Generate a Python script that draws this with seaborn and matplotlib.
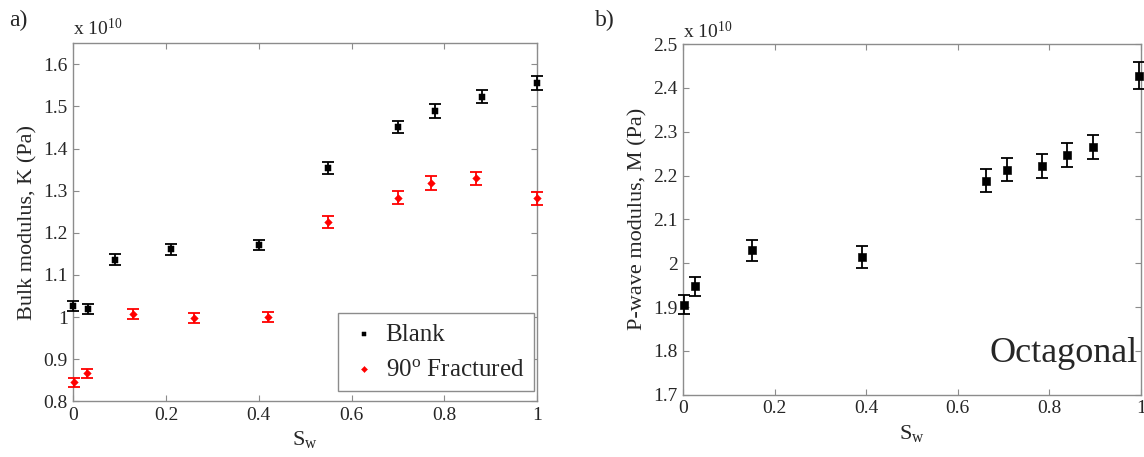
import numpy as np
import pandas as pd
import seaborn as sns
import matplotlib.pyplot as plt
from matplotlib.ticker import FuncFormatter

# values, moduli in units of 1e10 Pa
blank_sw = [0.0, 0.031, 0.089, 0.21, 0.40, 0.549, 0.70, 0.779, 0.88, 1.0]
blank_k = [1.026, 1.019, 1.136, 1.161, 1.171, 1.354, 1.451, 1.489, 1.523, 1.556]
blank_err = [0.012, 0.012, 0.013, 0.013, 0.013, 0.014, 0.015, 0.016, 0.016, 0.017]

frac_sw = [0.002, 0.03, 0.129, 0.26, 0.42, 0.549, 0.70, 0.770, 0.869, 1.0]
frac_k = [0.845, 0.866, 1.007, 0.997, 1.001, 1.226, 1.283, 1.318, 1.329, 1.282]
frac_err = [0.011, 0.011, 0.012, 0.012, 0.012, 0.014, 0.015, 0.016, 0.016, 0.015]

oct_sw = [0.002, 0.026, 0.15, 0.39, 0.661, 0.707, 0.784, 0.839, 0.895, 0.996]
oct_m = [1.905, 1.947, 2.029, 2.014, 2.188, 2.213, 2.222, 2.247, 2.265, 2.428]
oct_err = [0.022, 0.022, 0.025, 0.025, 0.026, 0.026, 0.027, 0.027, 0.028, 0.03]

sw_ticks = [0, 0.2, 0.4, 0.6, 0.8, 1]
k_ticks = [0.8, 0.9, 1.0, 1.1, 1.2, 1.3, 1.4, 1.5, 1.6]
m_ticks = [1.7, 1.8, 1.9, 2.0, 2.1, 2.2, 2.3, 2.4, 2.5]

sns.set_style('ticks')
plt.rcParams['font.family'] = ['Liberation Serif', 'DejaVu Serif']
plt.rcParams['mathtext.fontset'] = 'custom'
plt.rcParams['mathtext.rm'] = 'Liberation Serif'
plt.rcParams['mathtext.it'] = 'Liberation Serif:italic'

SPINE = '#8c8c8c'
fmt_g = FuncFormatter(lambda v, p: f'{v:g}')

fig = plt.figure(figsize=(11.44, 4.57), dpi=100)
ax1 = fig.add_axes([0.064, 0.122, 0.4056, 0.7834])
ax2 = fig.add_axes([0.5973, 0.1363, 0.400, 0.7674])


def style_axes(ax, yticks, ylim):
    ax.set_xlim(0, 1)
    ax.set_ylim(*ylim)
    ax.set_xticks(sw_ticks)
    ax.set_yticks(yticks)
    ax.xaxis.set_major_formatter(fmt_g)
    ax.yaxis.set_major_formatter(fmt_g)
    ax.tick_params(direction='in', top=True, right=True, length=4,
                   color=SPINE, labelsize=14, pad=4)
    for s in ax.spines.values():
        s.set_color(SPINE)
        s.set_linewidth(1.0)
    ax.set_xlabel(r'S$_\mathrm{w}$', fontsize=16, labelpad=4)


# panel a
df_blank = pd.DataFrame({'sw': blank_sw, 'k': blank_k})
df_frac = pd.DataFrame({'sw': frac_sw, 'k': frac_k})
ax1.errorbar(blank_sw, blank_k, yerr=blank_err, fmt='none', ecolor='black',
             elinewidth=1.3, capsize=4, capthick=1.3, clip_on=False, zorder=3)
ax1.errorbar(frac_sw, frac_k, yerr=frac_err, fmt='none', ecolor='red',
             elinewidth=1.3, capsize=4, capthick=1.3, clip_on=False, zorder=3)
sns.scatterplot(data=df_blank, x='sw', y='k', ax=ax1, marker='s', s=20,
                color='black', edgecolor='black', label='Blank',
                clip_on=False, zorder=4)
sns.scatterplot(data=df_frac, x='sw', y='k', ax=ax1, marker='D', s=15,
                color='red', edgecolor='red', label=r'90$^\mathrm{o}$ Fractured',
                clip_on=False, zorder=4)
style_axes(ax1, k_ticks, (0.8, 1.65))
ax1.set_ylabel('Bulk modulus, K (Pa)', fontsize=16, labelpad=4)
leg = ax1.legend(loc='lower right', bbox_to_anchor=(0.993, 0.03),
                 fontsize=18, frameon=True, fancybox=False,
                 framealpha=1, edgecolor=SPINE, borderaxespad=0,
                 handletextpad=0.2, handlelength=1.3, markerscale=0.8,
                 borderpad=0.4, labelspacing=0.5)
leg.get_frame().set_linewidth(1.0)
ax1.text(0.0, 1.012, r'x 10$^{10}$', transform=ax1.transAxes, fontsize=14,
         ha='left', va='bottom')

# panel b
df_oct = pd.DataFrame({'sw': oct_sw, 'm': oct_m})
ax2.errorbar(oct_sw, oct_m, yerr=oct_err, fmt='none', ecolor='black',
             elinewidth=1.3, capsize=4, capthick=1.3, clip_on=False, zorder=3)
sns.scatterplot(data=df_oct, x='sw', y='m', ax=ax2, marker='s', s=30,
                color='black', edgecolor='black', legend=False,
                clip_on=False, zorder=4)
style_axes(ax2, m_ticks, (1.7, 2.5))
ax2.set_ylabel('P-wave modulus, M (Pa)', fontsize=16, labelpad=4)
ax2.text(0.993, 0.118, 'Octagonal', transform=ax2.transAxes, fontsize=26,
         ha='right', va='center')
ax2.text(0.0, 1.005, r'x 10$^{10}$', transform=ax2.transAxes, fontsize=14,
         ha='left', va='bottom')

fig.text(0.008, 0.955, 'a)', fontsize=17, ha='left', va='center')
fig.text(0.52, 0.955, 'b)', fontsize=17, ha='left', va='center')

fig.savefig('out.png', dpi=100)
